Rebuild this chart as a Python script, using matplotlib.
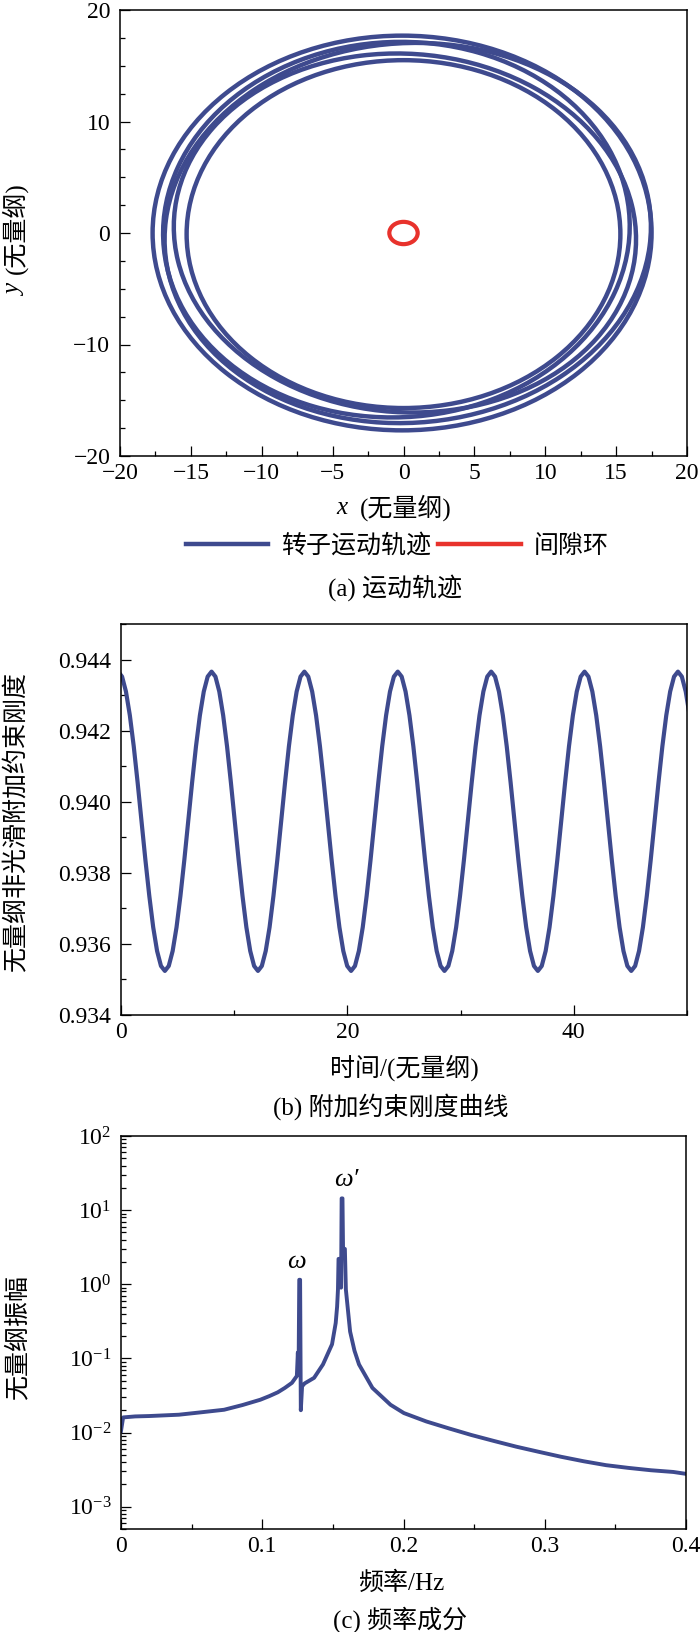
import numpy as np
import matplotlib
matplotlib.use('Agg')
import matplotlib.pyplot as plt
from matplotlib.patches import Ellipse
from matplotlib.lines import Line2D
from matplotlib.ticker import (MultipleLocator, FormatStrFormatter, LogLocator,
                               LogFormatterMathtext, NullFormatter, FixedLocator,
                               FixedFormatter)

plt.rcParams['font.family'] = ['Liberation Serif', 'Noto Sans CJK SC']
plt.rcParams['mathtext.fontset'] = 'stix'
plt.rcParams['axes.unicode_minus'] = True

BLUE = '#3e4a8e'
RED = '#e8322c'

# (a) rotor orbit: loops (centre, half axes, tilt)
loop_cx = [-0.10, 0.30, 0.10, 0.00, -0.50]
loop_cy = [0.00, 0.00, 0.00, -0.10, 0.30]
loop_rx = [17.60, 17.40, 16.50, 15.30, 16.90]
loop_ry = [17.70, 16.80, 15.90, 15.60, 16.40]
loop_ang = [0, 40, -35, 0, 70]
ring_r = 1.0
legend_labels = ['转子运动轨迹', '间隙环']

# (b) stiffness curve: peak times and one cycle (peak -> next peak) of values
peak_t = [-0.25, 8.0, 16.2, 24.45, 32.7, 40.95, 49.2, 57.45]
cycle_k = [0.94366, 0.94352, 0.94310, 0.94243, 0.94156, 0.94054, 0.93945, 0.93836,
           0.93735, 0.93647, 0.93580, 0.93538, 0.93524, 0.93538, 0.93580, 0.93647,
           0.93735, 0.93836, 0.93945, 0.94054, 0.94156, 0.94243, 0.94310, 0.94352]

# (c) spectrum
freq = [0.0, 0.0015, 0.010, 0.020, 0.041, 0.055, 0.073, 0.086, 0.0986, 0.105,
        0.111, 0.116, 0.121, 0.1245, 0.1252, 0.1257, 0.1262, 0.1268, 0.1273,
        0.1282, 0.1300, 0.1367, 0.143, 0.1494, 0.1520, 0.1530, 0.1536, 0.1540,
        0.1553, 0.1558, 0.1562, 0.1568, 0.1572, 0.1585, 0.1592, 0.1600, 0.1622,
        0.1653, 0.1685, 0.178, 0.1908, 0.2003, 0.2162, 0.232, 0.248, 0.264,
        0.2798, 0.2957, 0.3116, 0.3275, 0.3434, 0.359, 0.3752, 0.391, 0.399]
amp = [0.0105, 0.0160, 0.0165, 0.0167, 0.0174, 0.0186, 0.0203, 0.0235, 0.0277, 0.031,
       0.0349, 0.040, 0.0468, 0.058, 0.12, 0.06, 1.15, 1.15, 0.020,
       0.042, 0.046, 0.0547, 0.083, 0.155, 0.30, 0.50, 0.85, 2.2,
       2.2, 0.9, 14.4, 14.4, 3.0, 3.0, 0.85, 0.6, 0.23,
       0.127, 0.083, 0.040, 0.0237, 0.0183, 0.0141, 0.0114, 0.00927, 0.0077,
       0.00645, 0.0055, 0.00471, 0.0041, 0.00363, 0.00334, 0.0031, 0.00294, 0.00279]
freq_ticks = [0, 0.1, 0.2, 0.3, 0.4]
freq_labels = ['0', '0.1', '0.2', '0.3', '0.4']

W, H = 700, 1632
fig = plt.figure(figsize=(W / 100, H / 100), dpi=100)


def rect(l, t, r, b):
    return [l / W, 1 - b / H, (r - l) / W, (b - t) / H]


def ftext(px, py, s, **kw):
    kw.setdefault('ha', 'center')
    kw.setdefault('va', 'center')
    kw.setdefault('fontsize', 18)
    fig.text(px / W, 1 - py / H, s, **kw)


def style(ax):
    ax.tick_params(which='both', direction='in', top=False, right=False, labelsize=17)
    ax.tick_params(axis='y', which='both', pad=7)
    ax.tick_params(axis='x', which='both', pad=5)
    ax.tick_params(which='major', length=7, width=0.9)
    ax.tick_params(which='minor', length=3.6, width=0.9)
    for s in ax.spines.values():
        s.set_linewidth(1.1)


# ---- (a)
ax1 = fig.add_axes(rect(120, 10, 687, 456))
for cx, cy, rx, ry, ang in zip(loop_cx, loop_cy, loop_rx, loop_ry, loop_ang):
    ax1.add_patch(Ellipse((cx, cy), 2 * rx, 2 * ry, angle=ang, fill=False, ec=BLUE, lw=3.2))
ax1.add_patch(Ellipse((0, 0), 2 * ring_r, 2 * ring_r, fill=False, ec=RED, lw=3.0))
ax1.set_xlim(-20, 20)
ax1.set_ylim(-20, 20)
ax1.xaxis.set_major_locator(MultipleLocator(5))
ax1.xaxis.set_minor_locator(MultipleLocator(2.5))
ax1.yaxis.set_major_locator(MultipleLocator(10))
ax1.yaxis.set_minor_locator(MultipleLocator(2.5))
style(ax1)

ftext(342, 508, 'x', style='italic')
ftext(406, 508, '(无量纲)')
ftext(15, 290, 'y', style='italic', rotation=90)
ftext(15, 228, '(无量纲)', rotation=90)

handles = [Line2D([], [], color=BLUE, lw=3.2), Line2D([], [], color=RED, lw=3.2)]
fig.legend(handles, legend_labels, loc='center', bbox_to_anchor=(397 / W, 1 - 546 / H),
           ncol=2, frameon=False, fontsize=18, handlelength=3.3, handletextpad=0.5,
           columnspacing=0.3, borderpad=0)
ftext(395, 588, '(a) 运动轨迹')

# ---- (b)
t_all, k_all = [], []
for p0, p1 in zip(peak_t[:-1], peak_t[1:]):
    t_all.extend(np.linspace(p0, p1, len(cycle_k) + 1)[:-1])
    k_all.extend(cycle_k)
t_all.append(peak_t[-1])
k_all.append(cycle_k[0])

ax2 = fig.add_axes(rect(121, 624, 687, 1015))
ax2.plot(t_all, k_all, color=BLUE, lw=3.0)
ax2.set_xlim(0, 50)
ax2.set_ylim(0.934, 0.945)
ax2.xaxis.set_major_locator(MultipleLocator(20))
ax2.xaxis.set_minor_locator(MultipleLocator(10))
ax2.yaxis.set_major_locator(MultipleLocator(0.002))
ax2.yaxis.set_minor_locator(MultipleLocator(0.001))
ax2.yaxis.set_major_formatter(FormatStrFormatter('%.3f'))
style(ax2)
ftext(16, 822, '无量纲非光滑附加约束刚度', rotation=90)
ftext(404, 1068, '时间/(无量纲)')
ftext(391, 1107, '(b) 附加约束刚度曲线')

# ---- (c)
ax3 = fig.add_axes(rect(121, 1136, 686, 1529))
ax3.plot(freq, amp, color=BLUE, lw=2.8)
ax3.set_yscale('log')
ax3.set_xlim(0, 0.4)
ax3.set_ylim(5e-4, 100)
ax3.xaxis.set_major_locator(FixedLocator(freq_ticks))
ax3.xaxis.set_major_formatter(FixedFormatter(freq_labels))
ax3.xaxis.set_minor_locator(MultipleLocator(0.05))
ax3.yaxis.set_major_locator(LogLocator(base=10, numticks=10))
ax3.yaxis.set_major_formatter(LogFormatterMathtext())
ax3.yaxis.set_minor_locator(LogLocator(base=10, subs=np.arange(2, 10), numticks=20))
ax3.yaxis.set_minor_formatter(NullFormatter())
style(ax3)
ax3.text(0.1245, 2.0, 'ω', fontsize=19, style='italic', ha='center', va='center')
ax3.text(0.1598, 25.5, 'ω′', fontsize=19, style='italic', ha='center', va='center')
ftext(18, 1337, '无量纲振幅', rotation=90)
ftext(401, 1583, '频率/Hz')
ftext(400, 1620, '(c) 频率成分')

fig.savefig('out.png', dpi=100)
